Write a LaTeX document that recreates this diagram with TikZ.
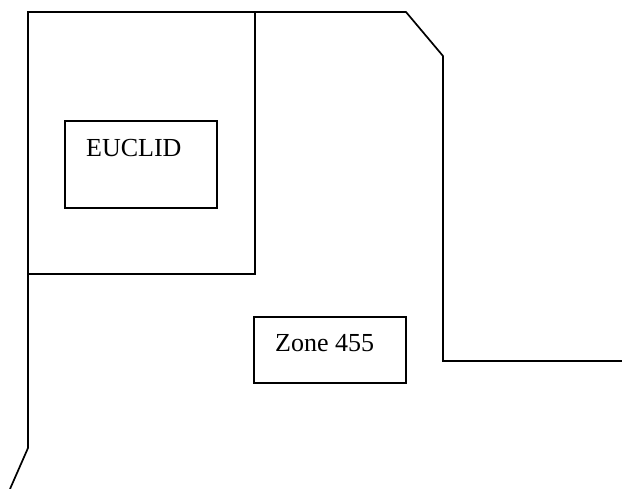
\documentclass[tikz,border=0pt]{standalone}
\usepackage{fontspec}
\setmainfont{Liberation Serif}
\usetikzlibrary{positioning}

\begin{document}
\begin{tikzpicture}[
    x=1pt,  % 1 px of the plan
    y=-1pt, % y grows downwards
    wall/.style={line width=1.7pt, line join=miter},
    zonebox/.style={draw, line width=1.7pt, inner sep=0pt},
    zonelabel/.style={anchor=base west, inner sep=0pt, font=\fontsize{26}{30}\selectfont}
]
    \useasboundingbox (0,0) rectangle (622,489);

    % --- outer walls ---
    \draw[wall] (10,489) -- (28,448) -- (28,12) -- (406,12) -- (443,56) -- (443,361) -- (622,361);

    % --- inner square ---
    \draw[wall] (28,274) -- (255,274) -- (255,12);

    % --- EUCLID ---
    \node[zonebox, minimum width=152, minimum height=87] (euclid) at (141,164.5) {};
    \node[zonelabel] (euclidtext) at (86,157) {EUCLID};

    % --- Zone 455 ---
    \node[zonebox, minimum width=152, minimum height=66] (zone) at (330,350) {};
    \node[zonelabel] (zonetext) at (275,352) {Zone 455};

\end{tikzpicture}
\end{document}
